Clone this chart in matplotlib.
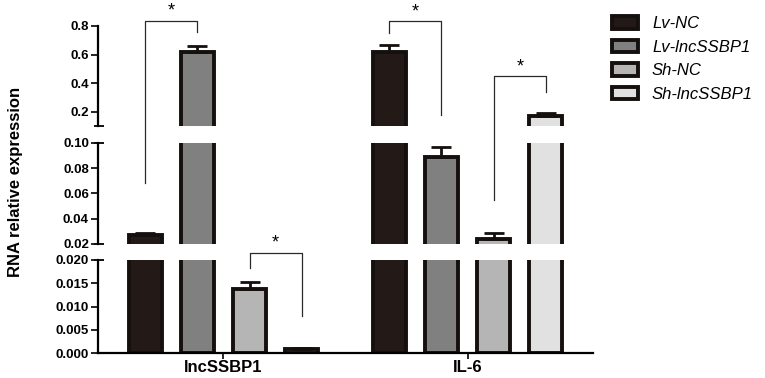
import numpy as np
import matplotlib
matplotlib.use("Agg")
from matplotlib import pyplot as plt
from matplotlib.lines import Line2D

plt.rcParams['font.family'] = ['Liberation Sans', 'DejaVu Sans']

genes = ['lncSSBP1', 'IL-6']
grupos = ['Lv-NC', 'Lv-lncSSBP1', 'Sh-NC', 'Sh-lncSSBP1']
colores = ['#231916', '#808080', '#b5b5b5', '#e1e1e1']

# valores por grupo: [lncSSBP1, IL-6]
lv_nc = [0.0275, 0.62]
lv_lnc = [0.615, 0.089]
sh_nc = [0.0138, 0.024]
sh_lnc = [0.0009, 0.172]

err_lv_nc = [0.0012, 0.045]
err_lv_lnc = [0.045, 0.008]
err_sh_nc = [0.0014, 0.0045]
err_sh_lnc = [0.0001, 0.020]

valores = [lv_nc, lv_lnc, sh_nc, sh_lnc]
errores = [err_lv_nc, err_lv_lnc, err_sh_nc, err_sh_lnc]

# tramos del eje y (abajo -> arriba)
limites = [(0.0, 0.020), (0.02, 0.10), (0.1, 0.8)]
ticks = [[0, 0.005, 0.010, 0.015, 0.020],
         [0.02, 0.04, 0.06, 0.08, 0.10],
         [0.2, 0.4, 0.6, 0.8]]
formatos = ['{:.3f}', '{:.2f}', '{:.1f}']

fig = plt.figure(figsize=(7.65, 3.78), dpi=100)

W, H = 765, 378
izq, der = 98, 593
cajas = [(260, 353), (143, 244), (26, 126)]  # pixeles (arriba, abajo)

x = np.arange(len(genes))
ancho = 0.135
paso = 0.214

ejes = []
for k in range(3):
    top, bot = cajas[k]
    lo, hi = limites[k]
    ax = fig.add_axes([izq / W, 1 - bot / H, (der - izq) / W, (bot - top) / H])
    ejes.append(ax)
    for i in range(4):
        pos = x + (i - 1.5) * paso
        ax.bar(pos, valores[i], width=ancho, color=colores[i], edgecolor='#150f0d',
               linewidth=2.8, label=grupos[i], zorder=2)
        # la barra de error solo en el tramo donde termina la barra
        for j in range(len(genes)):
            v = valores[i][j]
            if lo <= v < hi:
                ax.errorbar(pos[j], v, yerr=[[0], [errores[i][j]]], fmt='none',
                            ecolor='#150f0d', elinewidth=2, capsize=7, capthick=2,
                            zorder=3)
    ax.set_xlim(-0.514, 1.514)
    ax.set_ylim(lo, hi)
    ax.set_yticks(ticks[k])
    ax.set_yticklabels([formatos[k].format(t) for t in ticks[k]],
                       fontsize=9.5, fontweight='bold')
    ax.tick_params(axis='y', direction='out', length=5, width=1.2, pad=1.5)
    for s in ['top', 'right']:
        ax.spines[s].set_visible(False)
    ax.spines['left'].set_linewidth(1.6)
    ax.patch.set_alpha(0)
    if k == 0:
        ax.spines['bottom'].set_linewidth(1.6)
        ax.set_xticks(x)
        ax.set_xticklabels(genes, fontsize=12, fontweight='bold')
        ax.tick_params(axis='x', direction='out', length=4, width=1.2, pad=1)
    else:
        ax.spines['bottom'].set_visible(False)
        ax.set_xticks([])

# marcas de corte en el eje
for k, extremos in [(0, [1]), (1, [0, 1]), (2, [0])]:
    ax = ejes[k]
    for e in extremos:
        ax.plot([-0.008, 0.012], [e, e], transform=ax.transAxes, color='#150f0d',
                linewidth=1.4, clip_on=False, solid_capstyle='butt')

fig.text(16 / W, 0.518, 'RNA relative expression', rotation=90, ha='center', va='center',
         fontsize=12, fontweight='bold')


def a_figura(k, xd, yd):
    p = ejes[k].transData.transform((xd, yd))
    return fig.transFigure.inverted().transform(p)


# corchetes de significancia: (gen, barra a, barra b, tramo/altura arriba,
# tramo/altura pata izquierda, tramo/altura pata derecha)
corchetes = [
    (0, 0, 1, (2, 0.837), (1, 0.068), (2, 0.759)),
    (1, 0, 1, (2, 0.834), (2, 0.752), (2, 0.179)),
    (1, 2, 3, (2, 0.448), (1, 0.055), (2, 0.338)),
    (0, 2, 3, (0, 0.0215), (0, 0.0183), (0, 0.0080)),
]
for g, a, b, arriba, pata_a, pata_b in corchetes:
    xa = x[g] + (a - 1.5) * paso
    xb = x[g] + (b - 1.5) * paso
    p1 = a_figura(pata_a[0], xa, pata_a[1])
    p2 = a_figura(arriba[0], xa, arriba[1])
    p3 = a_figura(arriba[0], xb, arriba[1])
    p4 = a_figura(pata_b[0], xb, pata_b[1])
    fig.add_artist(Line2D([p1[0], p2[0], p3[0], p4[0]], [p1[1], p2[1], p3[1], p4[1]],
                          color='#2a2a2a', linewidth=0.9))
    fig.text((p2[0] + p3[0]) / 2, p2[1] + 0.003, '*', ha='center', va='bottom', fontsize=13)

h, l = ejes[0].get_legend_handles_labels()
etiquetas = ['Lv-NC', 'Lv-lncSSBP1', 'Sh-NC', 'Sh-lncSSBP1']
fig.legend(h, etiquetas, loc='upper left', bbox_to_anchor=(612 / W, 1 - 16 / H),
           frameon=False, prop={'style': 'italic', 'size': 12}, borderpad=0,
           borderaxespad=0, handlelength=1.55, handleheight=0.8, handletextpad=0.85,
           labelspacing=0.5)

plt.savefig('out.png', dpi=100)
